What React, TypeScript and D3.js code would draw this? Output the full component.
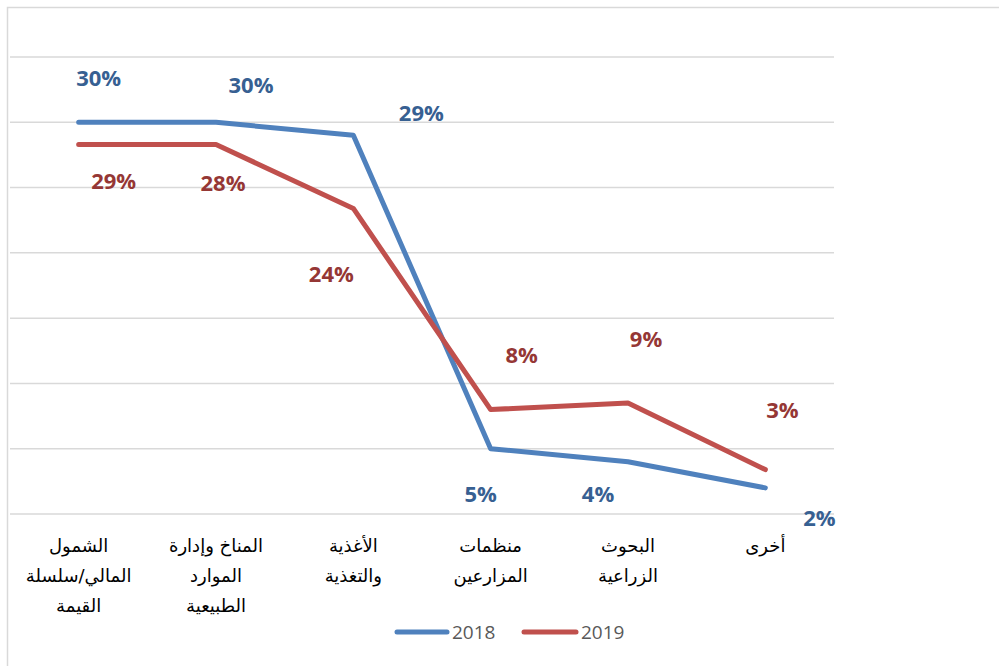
import React from "react";
import * as d3 from "d3";

const categories: string[][] = [
  ["الشمول", "المالي/سلسلة", "القيمة"],
  ["المناخ وإدارة", "الموارد", "الطبيعية"],
  ["الأغذية", "والتغذية"],
  ["منظمات", "المزارعين"],
  ["البحوث", "الزراعية"],
  ["أخرى"],
];
const series2018: number[] = [30, 30, 29, 5, 4, 2];
const series2019: number[] = [28.3, 28.3, 23.4, 8.0, 8.5, 3.4];
const labels2018: string[] = ["30%", "30%", "29%", "5%", "4%", "2%"];
const labels2019: string[] = ["29%", "28%", "24%", "8%", "9%", "3%"];
const yTicks: number[] = [0, 5, 10, 15, 20, 25, 30, 35];
const seriesNames: string[] = ["2018", "2019"];

// label placement offsets (layout only)
const off2018: [number, number][] = [
  [20, -45], [35, -38], [68, -23], [-10, 44], [-30, 31], [54, 29],
];
const off2019: [number, number][] = [
  [35, 36], [7, 38], [-22, 65], [31, -56], [18, -65], [17, -61],
];

const W = 999;
const H = 666;
const plotLeft = 10;
const plotRight = 834;
const plotTop = 57;
const plotBottom = 514;

const lineColors = ["#4F81BD", "#C0504D"];
const labelColors = ["#376092", "#953735"];

export default function App() {
  const idx = categories.map((_, i) => String(i));
  const x = d3.scaleBand<string>().domain(idx).range([plotLeft, plotRight]);
  const y = d3.scaleLinear().domain([0, 35]).range([plotBottom, plotTop]);
  const cx = (i: number) => (x(String(i)) as number) + x.bandwidth() / 2;
  const line = d3
    .line<number>()
    .x((_, i) => cx(i))
    .y((d) => y(d));

  const series = [
    { vals: series2018, labels: labels2018, offs: off2018 },
    { vals: series2019, labels: labels2019, offs: off2019 },
  ];

  const legendItems = [
    { x1: 397, x2: 447, tx: 452 },
    { x1: 524, x2: 576, tx: 581 },
  ];

  return (
    <svg
      width={W}
      height={H}
      style={{ position: "fixed", left: 0, top: 0, background: "#fff" }}
    >
      <rect x={0} y={0} width={W} height={H} fill="#fff" />
      <rect
        x={7.5}
        y={7.5}
        width={W + 10}
        height={H + 10}
        fill="none"
        stroke="#D9D9D9"
        strokeWidth={1.5}
      />
      {yTicks.map((t) => (
        <line
          key={t}
          x1={plotLeft}
          x2={plotRight}
          y1={y(t)}
          y2={y(t)}
          stroke="#D9D9D9"
          strokeWidth={1.5}
        />
      ))}
      {series.map((s, si) => (
        <path
          key={si}
          d={line(s.vals) || ""}
          fill="none"
          stroke={lineColors[si]}
          strokeWidth={5}
          strokeLinecap="round"
          strokeLinejoin="round"
        />
      ))}
      {series.map((s, si) =>
        s.vals.map((v, i) => (
          <text
            key={`${si}-${i}`}
            x={cx(i) + s.offs[i][0]}
            y={y(v) + s.offs[i][1]}
            textAnchor="middle"
            dominantBaseline="central"
            fontFamily="'Open Sans', sans-serif"
            fontWeight={700}
            fontSize={22}
            fill={labelColors[si]}
          >
            {s.labels[i]}
          </text>
        ))
      )}
      {categories.map((lines, i) => (
        <text
          key={i}
          x={cx(i)}
          y={552}
          textAnchor="middle"
          fontFamily="'DejaVu Sans', sans-serif"
          fontSize={18}
          fill="#000"
          direction="rtl"
        >
          {lines.map((l, j) => (
            <tspan key={j} x={cx(i)} y={552 + j * 30} direction="rtl">
              {l}
            </tspan>
          ))}
        </text>
      ))}
      {legendItems.map((it, si) => (
        <g key={si}>
          <line
            x1={it.x1}
            x2={it.x2}
            y1={632}
            y2={632}
            stroke={lineColors[si]}
            strokeWidth={5}
            strokeLinecap="round"
          />
          <text
            x={it.tx}
            y={632}
            dominantBaseline="central"
            fontFamily="'Open Sans', sans-serif"
            fontSize={19}
            fill="#595959"
          >
            {seriesNames[si]}
          </text>
        </g>
      ))}
    </svg>
  );
}
